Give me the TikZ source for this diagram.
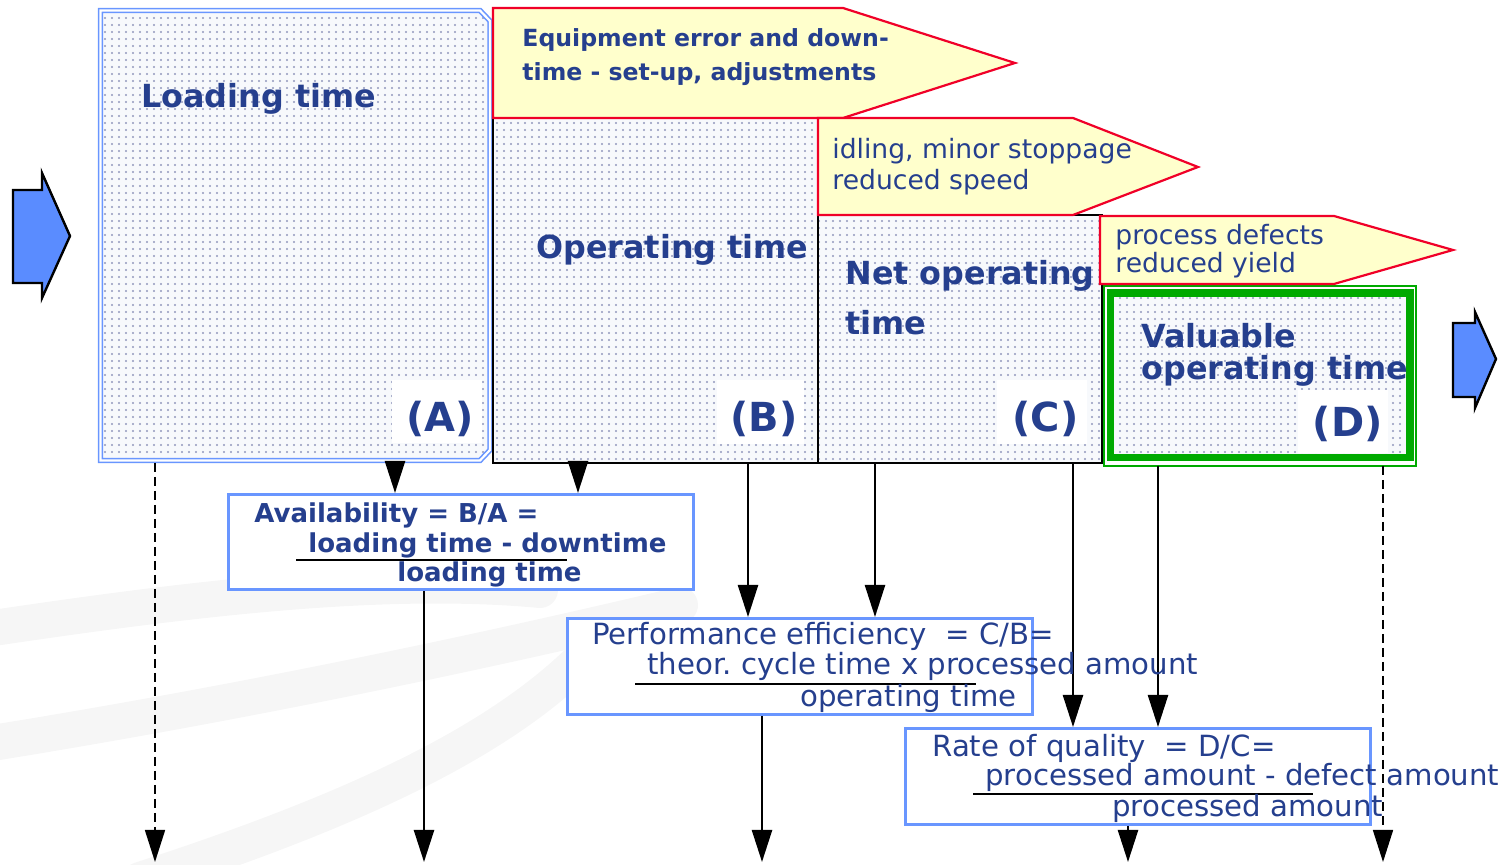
\documentclass[tikz,border=0pt]{standalone}
\usepackage{fontspec}
\setmainfont{DejaVu Sans}
\usetikzlibrary{arrows.meta,patterns.meta}

\definecolor{txtblue}{RGB}{37,63,142}
\definecolor{calfill}{RGB}{255,255,204}
\definecolor{calred}{RGB}{240,0,40}
\definecolor{arrblue}{RGB}{90,140,255}
\definecolor{boxblue}{RGB}{105,150,255}
\definecolor{okgreen}{RGB}{0,170,0}
\definecolor{ptbg}{RGB}{247,249,252}
\definecolor{ptdot}{RGB}{145,152,188}
\definecolor{wmark}{RGB}{246,246,246}

\tikzdeclarepattern{
  name=griddots, type=uncolored,
  bounding box={(-1.75pt,-1.75pt) and (1.75pt,1.75pt)},
  tile size={(3.5pt,3.5pt)},
  code={\pgfpathcircle{\pgfpointorigin}{0.6pt}\pgfusepath{fill}}
}

\tikzset{
  dotted area/.style={fill=ptbg, postaction={pattern=griddots, pattern color=ptdot}},
  timebox/.style={dotted area, postaction={draw=black, line width=1pt}},
  callout/.style={draw=calred, fill=calfill, line width=1.1pt},
  bigarrow/.style={draw=black, fill=arrblue, line width=1.2pt},
  fbox/.style={draw=boxblue, fill=white, line width=1.4pt, inner sep=0pt, anchor=north west},
  txt/.style={text=txtblue, inner sep=0pt, anchor=base west},
  head/.style={txt, font=\bfseries\fontsize{15.9}{19}\selectfont},
  lbl/.style={txt, anchor=base east, font=\bfseries\fontsize{20}{24}\selectfont},
  loss/.style={txt, font=\fontsize{13.3}{16}\selectfont},
  lossb/.style={txt, font=\bfseries\fontsize{11.8}{14}\selectfont},
  frm/.style={txt, font=\fontsize{14.6}{17}\selectfont},
  frmb/.style={txt, font=\bfseries\fontsize{13}{16}\selectfont},
  arr/.style={-{Triangle[width=10pt,length=16pt]}, line width=1.2pt},
  darr/.style={arr, line width=0.8pt, dash pattern=on 4.5pt off 2.5pt},
  frac/.style={line width=1pt}
}

\begin{document}
\begin{tikzpicture}[x=0.5pt, y=-0.5pt]
  \useasboundingbox (0,0) rectangle (1511,865);

  % faint watermark bands
  \begin{scope}[wmark, line width=18pt, line cap=round]
    \draw (-20,630) .. controls (180,600) and (380,575) .. (540,590);
    \draw (-20,745) .. controls (230,705) and (470,655) .. (680,605);
    \draw (140,880) .. controls (340,815) and (500,745) .. (590,650);
  \end{scope}

  % in/out arrows
  \path[bigarrow] (13,190) -- (42,190) -- (42,173) -- (70,236) -- (42,298) -- (42,283) -- (13,283) -- cycle;
  \path[bigarrow] (1453,323) -- (1475,323) -- (1475,312) -- (1496,359) -- (1475,408) -- (1475,397) -- (1453,397) -- cycle;

  % time blocks
  \path[dotted area, postaction={draw=boxblue, line width=0.8pt, double=white, double distance=1.1pt}]
    (100.5,10.5) -- (480,10.5) -- (490,21) -- (490,450) -- (480,460.5) -- (100.5,460.5) -- cycle;
  \path[timebox] (493,118) rectangle (818,463);
  \path[timebox] (818,215) rectangle (1102,463);
  \fill[white] (1104,286) rectangle (1416,466);
  \path[dotted area] (1110,293) rectangle (1410,457);
  \draw[okgreen, line width=1pt] (1104,286) rectangle (1416,466);
  \draw[okgreen, line width=3.6pt] (1110.5,293) rectangle (1410,457.5);

  % white patches behind the letters
  \fill[white] (392,380) rectangle (482,443);
  \fill[white] (717,380) rectangle (804,444);
  \fill[white] (997,380) rectangle (1087,444);
  \fill[white] (1298,390) rectangle (1388,453);

  % loss callouts
  \path[callout] (493,8) -- (843,8) -- (1015,63) -- (843,118) -- (493,118) -- cycle;
  \path[callout] (818,118) -- (1073,118) -- (1198,167) -- (1073,215) -- (818,215) -- cycle;
  \path[callout] (1100,216) -- (1334,216) -- (1453,250) -- (1334,284) -- (1100,284) -- cycle;

  \node[lossb] (eq1) at (522,47) {Equipment error and down-};
  \node[lossb] (eq2) at (522,81) {time - set-up, adjustments};
  \node[loss] (idl1) at (832,159) {idling, minor stoppage};
  \node[loss] (idl2) at (832,190) {reduced speed};
  \node[loss] (def1) at (1115,245) {process defects};
  \node[loss] (def2) at (1115,273) {reduced yield};

  % block titles
  \node[head] (loadT) at (141,108) {Loading time};
  \node[head] (operT) at (536,259) {Operating time};
  \node[head] (netT1) at (845,285) {Net operating};
  \node[head] (netT2) at (845,335) {time};
  \node[head] (valT1) at (1141,348) {Valuable};
  \node[head] (valT2) at (1141,380) {operating time};
  \node[lbl] (labA) at (474,432) {(A)};
  \node[lbl] (labB) at (798,432) {(B)};
  \node[lbl] (labC) at (1079,432) {(C)};
  \node[lbl] (labD) at (1383,437) {(D)};

  % formula boxes
  \node[fbox, minimum width=232.5pt, minimum height=47.5pt] (avail) at (227,493) {};
  \node[fbox, minimum width=232.5pt, minimum height=48pt] (perf) at (566,617) {};
  \node[fbox, minimum width=232.5pt, minimum height=48pt] (qual) at (904,727) {};

  % start and end points of the arrows
  \coordinate (oA1) at (395,463);
  \coordinate (oB1) at (578,463);
  \coordinate (oB2) at (748,463);
  \coordinate (oC1) at (875,463);
  \coordinate (oC2) at (1073,463);
  \coordinate (oD1) at (1158,466);
  \coordinate (oA0) at (155,463);
  \coordinate (oD0) at (1383,466);
  \coordinate (eA0) at (155,862);
  \coordinate (eD0) at (1383,862);
  \coordinate (eAv) at (424,862);
  \coordinate (ePf) at (762,862);
  \coordinate (eQl) at (1128,862);

  \draw[arr] (oA1) -- (oA1 |- avail.north);
  \draw[arr] (oB1) -- (oB1 |- avail.north);
  \draw[arr] (oB2) -- (oB2 |- perf.north);
  \draw[arr] (oC1) -- (oC1 |- perf.north);
  \draw[arr] (oC2) -- (oC2 |- qual.north);
  \draw[arr] (oD1) -- (oD1 |- qual.north);
  \draw[darr] (oA0) -- (eA0);
  \draw[darr] (oD0) -- (eD0);
  \draw[arr] (eAv |- avail.south) -- (eAv);
  \draw[arr] (ePf |- perf.south) -- (ePf);
  \draw[arr] (eQl |- qual.south) -- (eQl);

  % formulas
  \node[frmb] (av1) at (254,523) {Availability = B/A =};
  \node[frmb] (av2) at (308,553) {loading time - downtime};
  \draw[frac] (296,560) -- (567,560);
  \node[frmb] (av3) at (397,582) {loading time};

  \node[frm] (pf1) at (592,645) {Performance efficiency \ = C/B=};
  \node[frm] (pf2) at (647,675) {theor.\ cycle time x processed amount};
  \draw[frac] (635,684) -- (976,684);
  \node[frm] (pf3) at (800,707) {operating time};

  \node[frm] (ql1) at (932,757) {Rate of quality \ = D/C=};
  \node[frm] (ql2) at (985,785) {processed amount - defect amount};
  \draw[frac] (973,794) -- (1313,794);
  \node[frm] (ql3) at (1112,817) {processed amount};
\end{tikzpicture}
\end{document}
